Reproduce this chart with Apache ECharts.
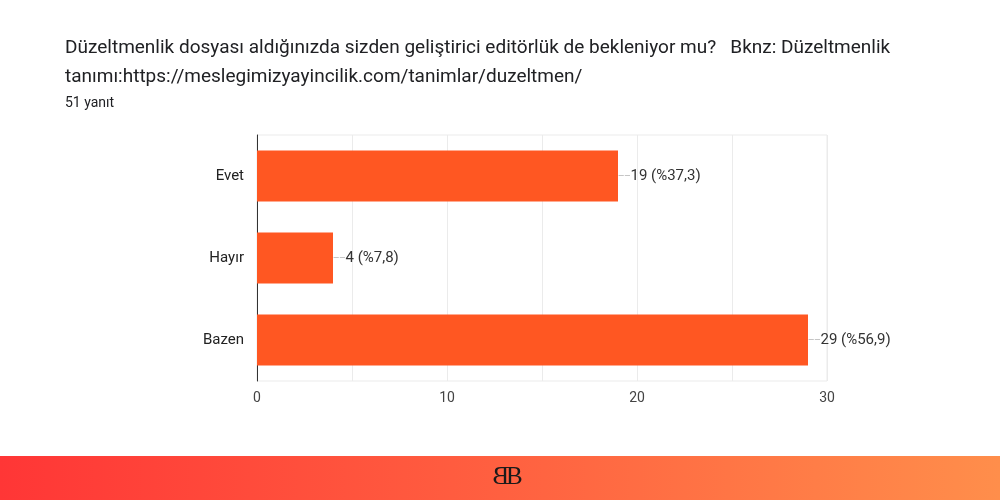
<!DOCTYPE html>
<html>
<head>
<meta charset="utf-8">
<script src="https://cdn.jsdelivr.net/npm/echarts@6/dist/echarts.min.js"></script>
<style>
html,body{margin:0;padding:0;background:#fff;}
#c{width:1000px;height:500px;}
</style>
</head>
<body>
<div id="c"></div>
<script>
const categories = ['Evet', 'Hayır', 'Bazen'];
const counts = [19, 4, 29];
const percents = ['%37,3', '%7,8', '%56,9'];
const xTicks = [0, 10, 20, 30];

const chart = echarts.init(document.getElementById('c'));
chart.setOption({
  backgroundColor: '#ffffff',
  animation: false,
  title: [
    {
      text: 'Düzeltmenlik dosyası aldığınızda sizden geliştirici editörlük de bekleniyor mu?   Bknz: Düzeltmenlik\ntanımı:https://meslegimizyayincilik.com/tanimlar/duzeltmen/',
      left: 60, top: 29,
      textStyle: { fontFamily: 'Roboto', fontSize: 19, fontWeight: 'normal', color: '#202124', lineHeight: 29 }
    },
    {
      text: '51 yanıt',
      left: 60, top: 91,
      textStyle: { fontFamily: 'Roboto', fontSize: 14, fontWeight: 'normal', color: '#202124' }
    }
  ],
  grid: { left: 257, right: 173, top: 135, height: 246, show: true, borderColor: '#ebebeb', borderWidth: 1 },
  xAxis: {
    type: 'value', min: 0, max: 30, interval: 5,
    axisLine: { show: false }, axisTick: { show: false },
    splitLine: { lineStyle: { color: '#ebebeb', width: 1 } },
    axisLabel: {
      margin: 10, fontFamily: 'Roboto', fontSize: 14, color: '#444',
      formatter: v => xTicks.includes(v) ? String(v) : ''
    }
  },
  yAxis: {
    type: 'category', data: categories, inverse: true,
    axisLine: { show: true, lineStyle: { color: '#333', width: 1 } },
    axisTick: { show: false },
    axisLabel: { margin: 13, fontFamily: 'Roboto', fontSize: 15, color: '#222' }
  },
  series: [{
    type: 'bar',
    data: counts,
    barCategoryGap: '38%',
    itemStyle: { color: '#FF5722' },
    label: {
      show: true, position: 'right', distance: 0,
      formatter: p => '{l|——}{v|' + p.value + ' (' + percents[p.dataIndex] + ')}',
      rich: {
        l: { fontFamily: 'Roboto', fontSize: 8, color: '#999', padding: [0, 0, 1, 0] },
        v: { fontFamily: 'Roboto', fontSize: 15, color: '#333' }
      }
    }
  }],
  graphic: [
    {
      type: 'rect', left: 0, top: 456, z: 10,
      shape: { width: 1000, height: 44 },
      style: {
        fill: new echarts.graphic.LinearGradient(0, 0, 1, 0, [
          { offset: 0, color: '#FF3636' },
          { offset: 0.5, color: '#FF6040' },
          { offset: 1, color: '#FF8E4B' }
        ])
      }
    },
    {
      type: 'text', x: 509, y: 465, z: 11, scaleX: -1,
      style: { text: 'B', fontFamily: 'Liberation Serif', fontSize: 25, fill: '#1a1a1a', textAlign: 'left', textVerticalAlign: 'top' }
    },
    {
      type: 'text', x: 506, y: 465, z: 11,
      style: { text: 'B', fontFamily: 'Liberation Serif', fontSize: 25, fill: '#1a1a1a', textAlign: 'left', textVerticalAlign: 'top' }
    }
  ]
});
</script>
</body>
</html>
